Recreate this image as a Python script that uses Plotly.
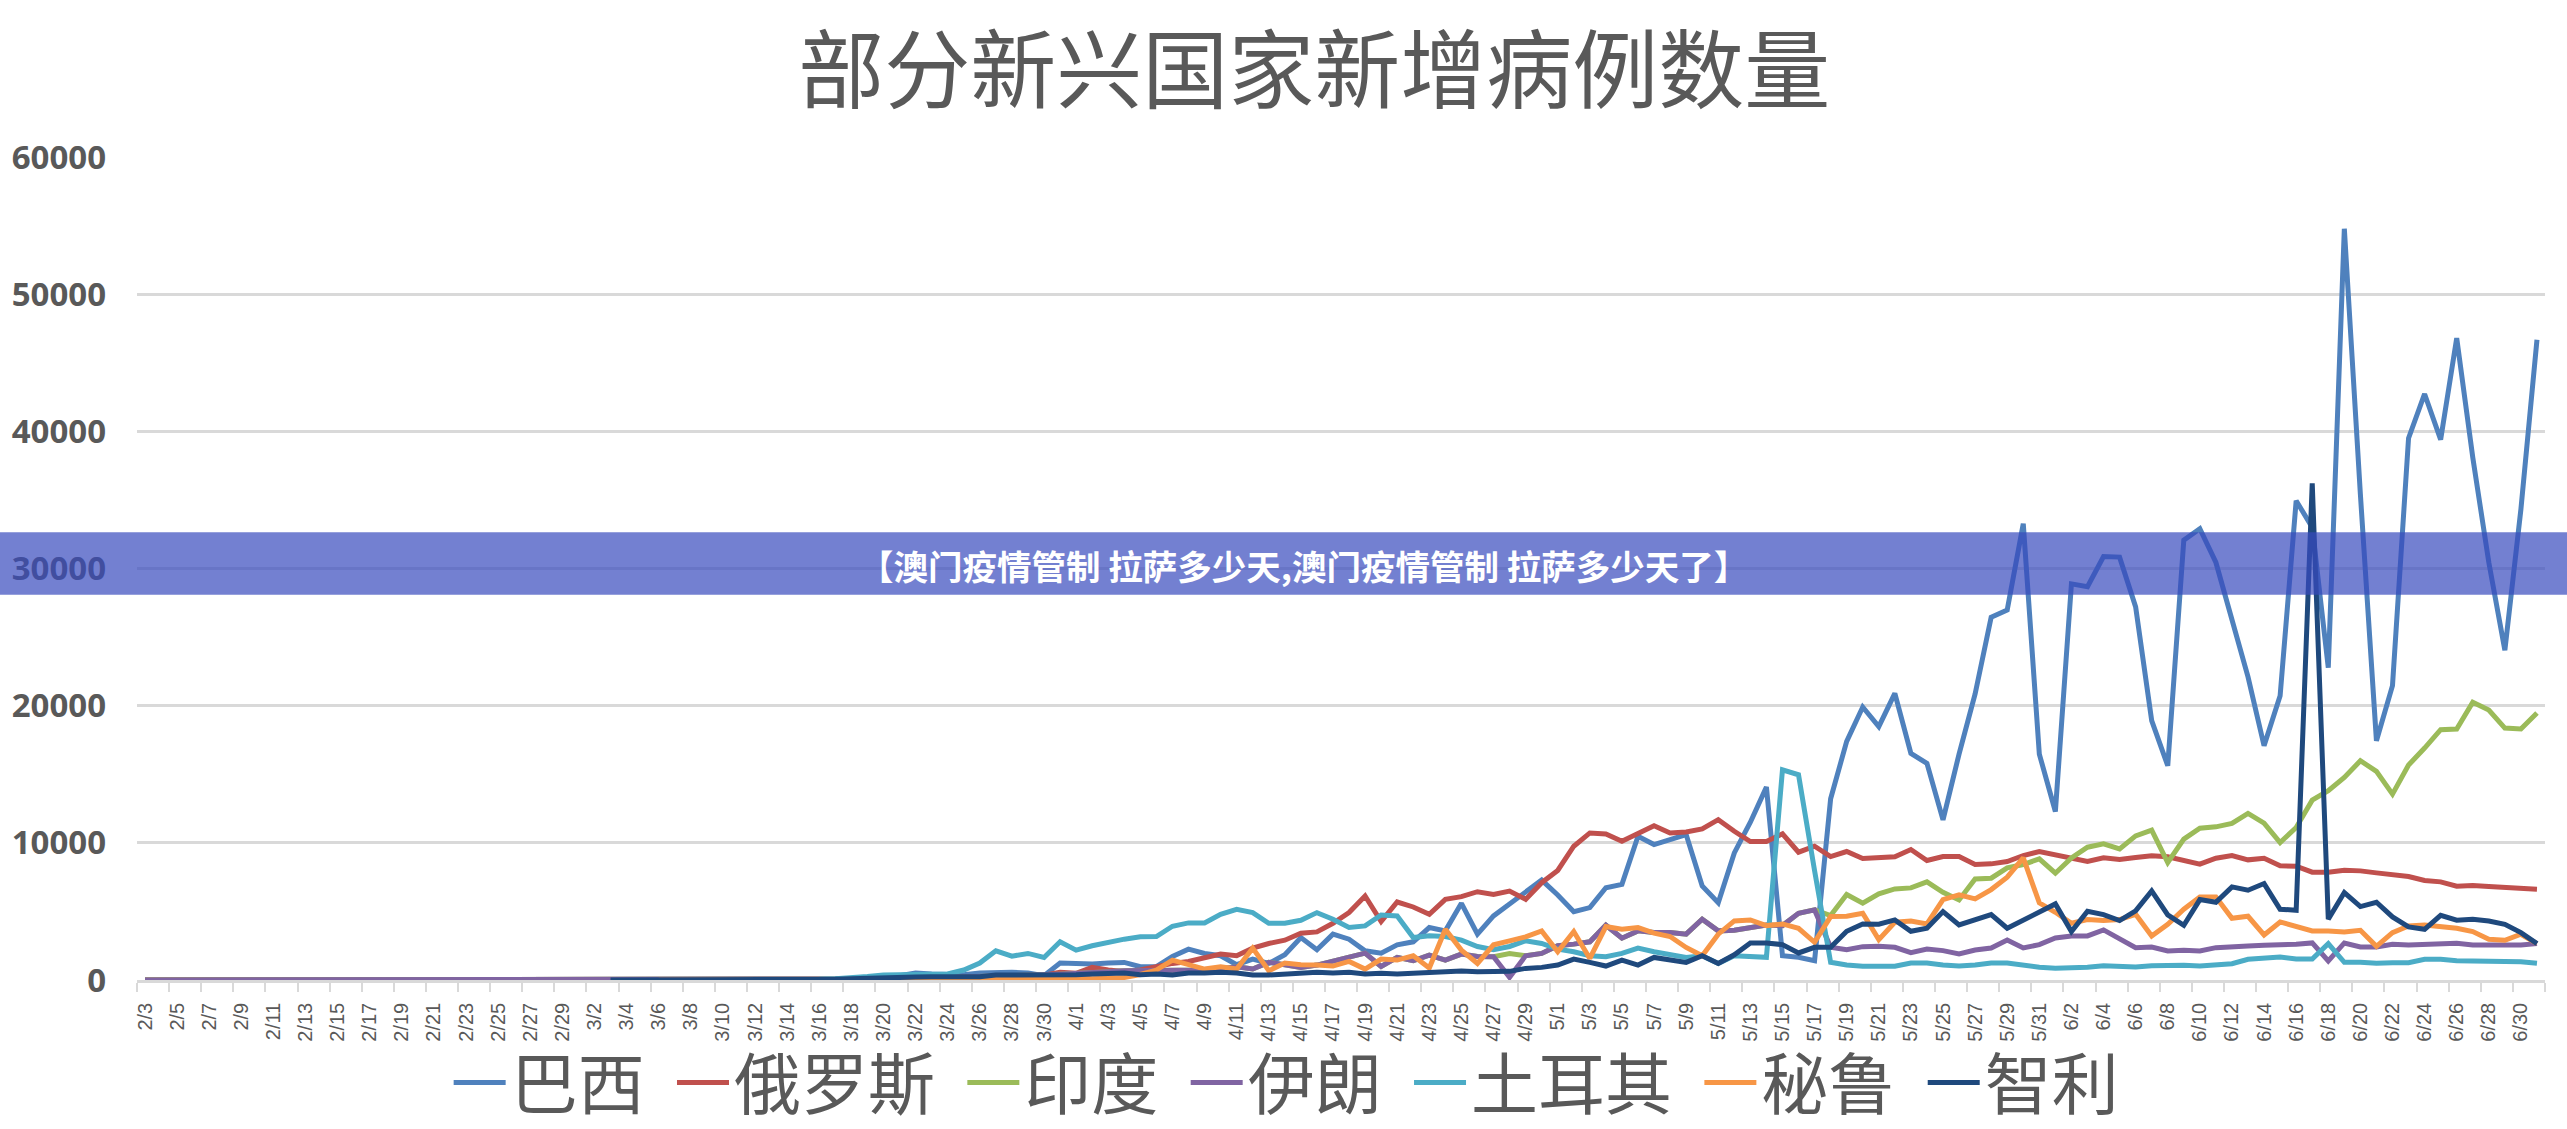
import plotly.graph_objects as go

# daily new cases
dates = [
    "2/3", "2/4", "2/5", "2/6", "2/7", "2/8", "2/9", "2/10", "2/11", "2/12",
    "2/13", "2/14", "2/15", "2/16", "2/17", "2/18", "2/19", "2/20", "2/21", "2/22",
    "2/23", "2/24", "2/25", "2/26", "2/27", "2/28", "2/29", "3/1", "3/2", "3/3",
    "3/4", "3/5", "3/6", "3/7", "3/8", "3/9", "3/10", "3/11", "3/12", "3/13",
    "3/14", "3/15", "3/16", "3/17", "3/18", "3/19", "3/20", "3/21", "3/22", "3/23",
    "3/24", "3/25", "3/26", "3/27", "3/28", "3/29", "3/30", "3/31", "4/1", "4/2",
    "4/3", "4/4", "4/5", "4/6", "4/7", "4/8", "4/9", "4/10", "4/11", "4/12",
    "4/13", "4/14", "4/15", "4/16", "4/17", "4/18", "4/19", "4/20", "4/21", "4/22",
    "4/23", "4/24", "4/25", "4/26", "4/27", "4/28", "4/29", "4/30", "5/1", "5/2",
    "5/3", "5/4", "5/5", "5/6", "5/7", "5/8", "5/9", "5/10", "5/11", "5/12",
    "5/13", "5/14", "5/15", "5/16", "5/17", "5/18", "5/19", "5/20", "5/21", "5/22",
    "5/23", "5/24", "5/25", "5/26", "5/27", "5/28", "5/29", "5/30", "5/31", "6/1",
    "6/2", "6/3", "6/4", "6/5", "6/6", "6/7", "6/8", "6/9", "6/10", "6/11",
    "6/12", "6/13", "6/14", "6/15", "6/16", "6/17", "6/18", "6/19", "6/20", "6/21",
    "6/22", "6/23", "6/24", "6/25", "6/26", "6/27", "6/28", "6/29", "6/30", "7/1",
]

brazil = [
    0, 0, 0, 0, 0, 0, 0, 0, 0, 0,
    0, 0, 0, 0, 0, 0, 0, 0, 0, 0,
    0, 0, 0, 0, 0, 0, 0, 0, 0, 0,
    0, 0, 0, 0, 0, 0, 0, 0, 0, 0,
    0, 0, 20, 40, 70, 100, 315, 315, 508, 436,
    387, 387, 508, 557, 557, 508, 315, 1234, 1162, 1162,
    1234, 1283, 968, 968, 1718, 2251, 1936, 1767, 1113, 1525,
    1210, 1839, 3098, 2202, 3340, 2977, 2130, 1960, 2565, 2783,
    3824, 3582, 5590, 3340, 4671, 5518, 6365, 7284, 6195, 4985,
    5276, 6728, 6970, 10479, 9874, 10237, 10600, 6849, 5639, 9269,
    11500, 14063, 1776, 1654, 1411, 13211, 17400, 19900, 18467, 20900,
    16520, 15790, 11678, 16470, 20850, 26450, 26980, 33260, 16470, 12287,
    28880, 28680, 30875, 30830, 27200, 18904, 15620, 32068, 32900, 30438,
    26400, 22100, 17080, 20730, 34940, 33000, 22770, 54770, 35400, 17444,
    21460, 39500, 42725, 39400, 46800, 38100, 30440, 24040, 34330, 46670,
]

russia = [
    0, 0, 0, 0, 0, 0, 0, 0, 0, 0,
    0, 0, 0, 0, 0, 0, 0, 0, 0, 0,
    0, 0, 0, 0, 0, 0, 0, 0, 0, 0,
    0, 0, 0, 0, 0, 0, 0, 0, 0, 0,
    0, 0, 0, 0, 0, 5, 10, 20, 30, 40,
    50, 60, 80, 100, 120, 250, 350, 557, 484, 920,
    726, 629, 726, 968, 1210, 1355, 1597, 1888, 1767, 2323,
    2662, 2904, 3412, 3509, 4138, 4913, 6123, 4259, 5687, 5324,
    4792, 5881, 6074, 6437, 6244, 6486, 5881, 7091, 7986, 9753,
    10721, 10648, 10116, 10672, 11253, 10721, 10793, 11011, 11689, 10842,
    10097, 10097, 10657, 9318, 9756, 9002, 9367, 8856, 8905, 8978,
    9513, 8710, 9002, 9002, 8418, 8467, 8637, 9075, 9367, 9148,
    8905, 8637, 8905, 8783, 8929, 9051, 8978, 8686, 8443, 8880,
    9075, 8759, 8880, 8321, 8297, 7859, 7859, 8005, 7956, 7810,
    7688, 7542, 7250, 7153, 6837, 6885, 6812, 6739, 6739, 6618,
]

india = [
    0, 0, 0, 0, 0, 0, 0, 0, 0, 0,
    0, 0, 0, 0, 0, 0, 0, 0, 0, 0,
    0, 0, 0, 0, 0, 0, 0, 0, 0, 0,
    0, 0, 0, 0, 0, 0, 0, 0, 0, 0,
    20, 30, 40, 50, 60, 80, 100, 120, 150, 180,
    220, 250, 280, 300, 320, 350, 380, 420, 450, 500,
    600, 680, 680, 680, 678, 678, 726, 799, 968, 799,
    1283, 1113, 920, 1089, 1355, 1646, 1960, 992, 1646, 1404,
    1815, 1452, 1888, 1718, 1694, 1936, 1767, 1936, 2493, 2614,
    2783, 3993, 3049, 3582, 3461, 3461, 3340, 4429, 3582, 3630,
    3795, 4014, 3966, 4866, 5109, 4696, 6228, 5596, 6277, 6642,
    6715, 7153, 6399, 5839, 7372, 7420, 8175, 8418, 8832, 7786,
    8905, 9683, 9927, 9562, 10510, 10924, 8564, 10267, 11070, 11167,
    11410, 12140, 11435, 10024, 11119, 13114, 13795, 14768, 15985, 15206,
    13552, 15668, 16909, 18247, 18296, 20243, 19683, 18369, 18296, 19464,
]

iran = [
    0, 0, 0, 0, 0, 0, 0, 0, 0, 0,
    0, 0, 0, 0, 0, 0, 0, 0, 0, 0,
    0, 0, 0, 0, 0, 0, 0, 0, 0, 0,
    0, 0, 0, 0, 0, 0, 0, 0, 0, 0,
    20, 30, 40, 50, 60, 80, 100, 120, 150, 180,
    220, 250, 280, 300, 320, 350, 380, 420, 450, 500,
    600, 680, 680, 680, 678, 678, 726, 799, 968, 799,
    1283, 1113, 920, 1089, 1355, 1646, 1960, 992, 1646, 1404,
    1815, 1452, 1888, 1718, 1694, 194, 1767, 1936, 2493, 2614,
    2783, 3993, 3049, 3582, 3461, 3461, 3340, 4429, 3582, 3630,
    3795, 4014, 3966, 4866, 5109, 2384, 2214, 2433, 2457, 2384,
    1995, 2263, 2141, 1898, 2190, 2336, 2920, 2336, 2579, 3066,
    3212, 3212, 3650, 2993, 2360, 2409, 2117, 2165, 2117, 2360,
    2457, 2482, 2530, 2555, 2603, 2701, 1387, 2701, 2409, 2409,
    2603, 2555, 2603, 2676, 2676, 2555, 2555, 2603, 2555, 2652,
]

turkey = [
    None, None, None, None, None, None, None, None, None, None,
    None, None, None, None, None, None, None, None, None, None,
    None, None, None, None, None, None, None, None, None, None,
    None, None, None, None, None, None, None, 0, 0, 5,
    20, 40, 60, 100, 150, 250, 363, 363, 363, 387,
    436, 726, 1234, 2130, 1742, 1936, 1646, 2783, 2178, 2493,
    2759, 2977, 3146, 3170, 3920, 4162, 4162, 4792, 5155, 4913,
    4138, 4138, 4356, 4913, 4429, 3824, 3945, 4743, 4671, 3098,
    3219, 3170, 2904, 2444, 2202, 2444, 2856, 2662, 2251, 2057,
    1767, 1694, 1936, 2323, 2057, 1888, 1646, 1767, 1210, 1767,
    1703, 1654, 15328, 14963, 7980, 1290, 1095, 998, 998, 998,
    1241, 1241, 1095, 1022, 1095, 1241, 1241, 1071, 925, 852,
    852, 925, 1046, 973, 949, 1046, 1095, 1071, 1022, 1071,
    1192, 1508, 1581, 1679, 1533, 1533, 2652, 1289, 1289, 1216,
    1265, 1265, 1508, 1508, 1411, 1411, 1411, 1411, 1338, 1216,
]

peru = [
    None, None, None, None, None, None, None, None, None, None,
    None, None, None, None, None, None, None, None, None, None,
    None, None, None, None, None, None, None, None, None, None,
    None, None, 0, 0, 0, 0, 0, 0, 0, 0,
    0, 0, 5, 10, 20, 30, 40, 50, 60, 70,
    60, 80, 100, 130, 150, 120, 130, 180, 190, 100,
    150, 190, 400, 726, 1452, 1113, 799, 968, 799, 2323,
    678, 1234, 1113, 1089, 1016, 1355, 799, 1525, 1452, 1767,
    871, 3703, 2178, 1210, 2565, 2856, 3146, 3582, 2057, 3533,
    1573, 3896, 3703, 3824, 3412, 3170, 2372, 1767, 3340, 4308,
    4379, 3966, 4087, 3771, 2749, 4623, 4647, 4866, 2944, 4209,
    4306, 4087, 5864, 6204, 5912, 6593, 7494, 8905, 5620, 4939,
    4136, 4404, 4331, 4404, 4793, 3212, 4063, 5158, 6058, 6058,
    4501, 4647, 3285, 4233, 3868, 3576, 3576, 3504, 3625, 2457,
    3455, 3941, 4014, 3893, 3771, 3528, 2968, 2895, 3333, 2652,
]

chile = [
    None, None, None, None, None, None, None, None, None, None,
    None, None, None, None, None, None, None, None, None, None,
    None, None, None, None, None, None, None, None, None, 0,
    0, 0, 0, 0, 0, 0, 0, 0, 0, 0,
    10, 20, 40, 60, 100, 150, 194, 200, 210, 230,
    242, 250, 242, 363, 363, 363, 315, 363, 387, 436,
    436, 508, 387, 436, 363, 508, 508, 557, 508, 363,
    363, 436, 436, 557, 508, 557, 436, 484, 436, 484,
    557, 605, 653, 605, 581, 629, 847, 920, 1089, 1525,
    1283, 1016, 1452, 1089, 1646, 1476, 1283, 1767, 1210, 1839,
    2701, 2701, 2579, 1971, 2384, 2384, 3552, 4087, 4063, 4379,
    3552, 3771, 4988, 4014, 4404, 4769, 3771, 4331, 4939, 5547,
    3528, 5012, 4769, 4331, 5036, 6496, 4744, 3990, 5864, 5669,
    6788, 6545, 7031, 5158, 5085, 36200, 4428, 6374, 5353, 5669,
    4598, 3868, 3698, 4720, 4355, 4428, 4306, 4063, 3455, 2652,
]

series = [
    ("巴西", brazil, "#4F81BD"),
    ("俄罗斯", russia, "#C0504D"),
    ("印度", india, "#9BBB59"),
    ("伊朗", iran, "#8064A2"),
    ("土耳其", turkey, "#4BACC6"),
    ("秘鲁", peru, "#F79646"),
    ("智利", chile, "#1F497D"),
]

gray = "#595959"
line_gray = "#D9D9D9"
cjk = "Noto Sans CJK SC"

fig = go.Figure()

positions = list(range(len(dates)))
for name, values, color in series:
    fig.add_trace(go.Scatter(
        # the thin space only widens the gap between legend entries
        name=name + "\u2004", x=positions, y=values, mode="lines",
        line=dict(color=color, width=5, shape="linear"),
        cliponaxis=False,
    ))

# labels sit on every other day, the tick marks between the days
fig.update_xaxes(
    range=[-0.5, len(dates) - 0.5],
    tickmode="array",
    tickvals=positions[::2],
    ticktext=dates[::2],
    tickangle=-90,
    ticks="outside",
    ticklen=12,
    tickcolor="rgba(0,0,0,0)",
    tickfont=dict(family="Liberation Sans", size=20, color=gray),
    showgrid=False,
    showline=True,
    linecolor=line_gray,
    linewidth=2.5,
    zeroline=False,
    minor=dict(
        tickmode="array",
        tickvals=[p - 0.5 for p in positions[::2]] + [len(dates) - 0.5],
        ticks="outside",
        ticklen=9,
        tickwidth=2,
        tickcolor=line_gray,
        showgrid=False,
    ),
)
fig.update_yaxes(
    range=[0, 60000],
    dtick=10000,
    tickformat="d",
    showgrid=True,
    gridcolor=line_gray,
    gridwidth=2.5,
    zeroline=False,
    showline=False,
    ticklabelstandoff=30,
    tickfont=dict(family="Open Sans", size=33, color=gray, weight="bold"),
)

# banner laid across the chart
fig.add_shape(
    type="rect", xref="paper", yref="paper",
    x0=-0.06, x1=1.01, y0=0.468, y1=0.544,
    fillcolor="rgba(55,74,189,0.7)", line_width=0, layer="above",
)
fig.add_annotation(
    text="【澳门疫情管制 拉萨多少天,澳门疫情管制 拉萨多少天了】",
    xref="paper", yref="paper", x=0.4845, y=0.504,
    showarrow=False,
    font=dict(family=cjk, size=34.5, color="white", weight="bold"),
)

fig.update_layout(
    width=2567,
    height=1129,
    margin=dict(l=137, r=22, t=157, b=149, pad=0, autoexpand=False),
    paper_bgcolor="white",
    plot_bgcolor="white",
    title=dict(
        text="部分新兴国家新增病例数量",
        x=0.512, xanchor="center", y=0.936, yanchor="middle",
        font=dict(family=cjk, size=86, color=gray),
    ),
    legend=dict(
        orientation="h",
        x=0.482, xanchor="center",
        y=-0.125, yanchor="middle",
        itemwidth=52,
        bgcolor="rgba(0,0,0,0)",
        font=dict(family=cjk, size=67, color=gray),
    ),
)

# page margin off, so the figure fills the window
fig.write_html("out.html", config={"displayModeBar": False},
               post_script="document.body.style.margin='0';")
